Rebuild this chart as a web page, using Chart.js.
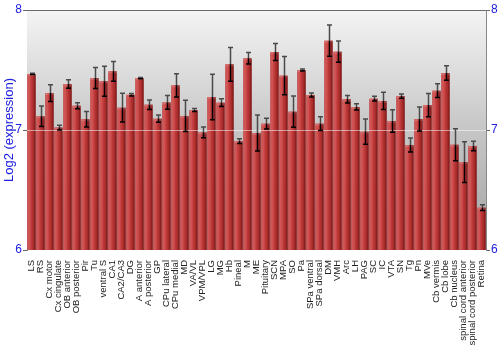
<!DOCTYPE html>
<html><head><meta charset="utf-8">
<script src="https://cdn.jsdelivr.net/npm/chart.js@4/dist/chart.umd.min.js"></script>
<style>html,body{margin:0;padding:0;background:#fff}#wrap{width:500px;height:350px;position:relative}</style>
</head><body>
<div id="wrap"><canvas id="c"></canvas></div>
<script>
const categories = ["LS","RS","Cx motor","Cx cingulate","OB anterior","OB posterior","Pir","Tu","ventral S","CA1","CA2/CA3","DG","A anterior","A posterior","GP","CPu lateral","CPu medial","MD","VA/VL","VPM/VPL","LG","MG","Hb","Pineal","M","ME","Pituitary","SCN","MPA","SO","Pa","SPa ventral","SPa dorsal","DM","VMH","Arc","LH","PAG","SC","IC","VTA","SN","Tg","Pn","MVe","Cb vermis","Cb lobe","Cb nucleus","spinal cord anterior","spinal cord posterior","Retina"];
const values = [7.467,7.114,7.308,7.02,7.383,7.203,7.089,7.433,7.406,7.489,7.186,7.294,7.433,7.211,7.094,7.23,7.372,7.117,7.167,6.98,7.275,7.228,7.547,6.908,7.597,6.975,7.053,7.65,7.453,7.153,7.5,7.292,7.053,7.744,7.653,7.256,7.192,6.986,7.261,7.242,7.075,7.283,6.875,7.092,7.208,7.328,7.475,6.877,6.733,6.867,6.353];
const errors = [0.005,0.085,0.07,0.02,0.035,0.025,0.065,0.088,0.125,0.082,0.12,0.01,0.005,0.04,0.03,0.058,0.096,0.13,0.012,0.045,0.19,0.033,0.14,0.02,0.048,0.15,0.045,0.07,0.16,0.13,0.008,0.017,0.058,0.13,0.088,0.032,0.026,0.105,0.02,0.072,0.093,0.018,0.058,0.1,0.097,0.057,0.06,0.133,0.17,0.04,0.024];
const yMin = 6, yMax = 8, yStep = 1;
const gridValue = 7;
const blue = '#2020e0';

const deco = {
  id: 'deco',
  beforeDatasetsDraw(chart) {
    const {ctx, chartArea: a} = chart;
    const g = ctx.createLinearGradient(0, a.top, 0, a.bottom);
    g.addColorStop(0, '#f4f4f4');
    g.addColorStop(0.5, '#c6c6c6');
    g.addColorStop(1, '#a2a2a2');
    ctx.save();
    ctx.fillStyle = g;
    ctx.fillRect(a.left, a.top, a.right - a.left, a.bottom - a.top);
    ctx.restore();
  },
  afterDatasetsDraw(chart) {
    const {ctx, chartArea: a} = chart;
    const y = chart.scales.y;
    const meta = chart.getDatasetMeta(0);
    ctx.save();
    ctx.beginPath();
    ctx.rect(a.left, a.top - 20, a.right - a.left, a.bottom - a.top + 20);
    ctx.clip();
    const basePx = y.getPixelForValue(yMin);
    meta.data.forEach((el) => {
      const w = el.width, l = el.x - w / 2;
      const g = ctx.createLinearGradient(l, 0, l + w, 0);
      g.addColorStop(0, '#c44848');
      g.addColorStop(0.18, '#d45a5a');
      g.addColorStop(0.45, '#c23c3c');
      g.addColorStop(0.8, '#a22828');
      g.addColorStop(1, '#6e1212');
      ctx.fillStyle = g;
      ctx.fillRect(l, el.y, w, basePx - el.y);
      ctx.fillStyle = 'rgba(255,255,255,0.15)';
      ctx.fillRect(l, el.y, w, 2);
    });
    // grid line at 7 over bars
    const gy = Math.round(y.getPixelForValue(gridValue)) + 0.5;
    ctx.strokeStyle = 'rgba(255,255,255,0.5)';
    ctx.lineWidth = 1;
    ctx.beginPath(); ctx.moveTo(a.left, gy); ctx.lineTo(a.right, gy); ctx.stroke();
    // error bars
    meta.data.forEach((el, i) => {
      const x = Math.round(el.x) + 0.5;
      const yt = y.getPixelForValue(values[i] + errors[i]);
      const yv = y.getPixelForValue(values[i]);
      const yb = y.getPixelForValue(values[i] - errors[i]);
      ctx.lineWidth = 1.5;
      ctx.strokeStyle = '#4a4a4a';
      ctx.beginPath(); ctx.moveTo(x, yt); ctx.lineTo(x, yv);
      ctx.moveTo(x - 2.5, yt); ctx.lineTo(x + 2.5, yt); ctx.stroke();
      ctx.strokeStyle = '#000';
      ctx.beginPath(); ctx.moveTo(x, yv); ctx.lineTo(x, yb);
      ctx.moveTo(x - 2.5, yb); ctx.lineTo(x + 2.5, yb); ctx.stroke();
    });
    ctx.restore();
    // top border
    ctx.save();
    ctx.strokeStyle = '#6a6a6a';
    ctx.lineWidth = 1;
    ctx.beginPath(); ctx.moveTo(a.left, a.top + 0.5); ctx.lineTo(a.right, a.top + 0.5); ctx.stroke();
    ctx.restore();
  }
};

const tickFont = {family: 'Liberation Sans', size: 12};
new Chart(document.getElementById('c'), {
  type: 'bar',
  data: {labels: categories, datasets: [{data: values, backgroundColor: '#c23c3c', borderWidth: 0, categoryPercentage: 1, barPercentage: 0.9}]},
  options: {
    responsive: true, maintainAspectRatio: false, animation: false,
    layout: {padding: {top: 10, left: 0, right: 0, bottom: 0}},
    plugins: {legend: {display: false}, tooltip: {enabled: false}},
    scales: {
      x: {
        type: 'category', offset: true,
        grid: {display: false}, border: {display: false},
        ticks: {autoSkip: false, minRotation: 90, maxRotation: 90, padding: 2, color: '#222', font: {family: 'Liberation Sans', size: 9.5}},
        afterFit(s) { s.height = 100; }
      },
      y: {
        position: 'left', min: yMin, max: yMax,
        ticks: {stepSize: yStep, color: blue, font: tickFont, padding: 1},
        grid: {drawOnChartArea: false, tickLength: 4, color: '#666'},
        border: {color: '#888'},
        title: {display: true, text: 'Log2 (expression)', color: blue, font: {family: 'Liberation Sans', size: 13}, padding: {top: 2, bottom: 0}},
        afterFit(s) { s.width = 27; }
      },
      y2: {
        position: 'right', min: yMin, max: yMax,
        ticks: {stepSize: yStep, color: blue, font: tickFont, padding: 1},
        grid: {drawOnChartArea: false, tickLength: 4, color: '#666'},
        border: {color: '#888'},
        afterFit(s) { s.width = 14; }
      }
    }
  },
  plugins: [deco]
});
</script>
</body></html>
